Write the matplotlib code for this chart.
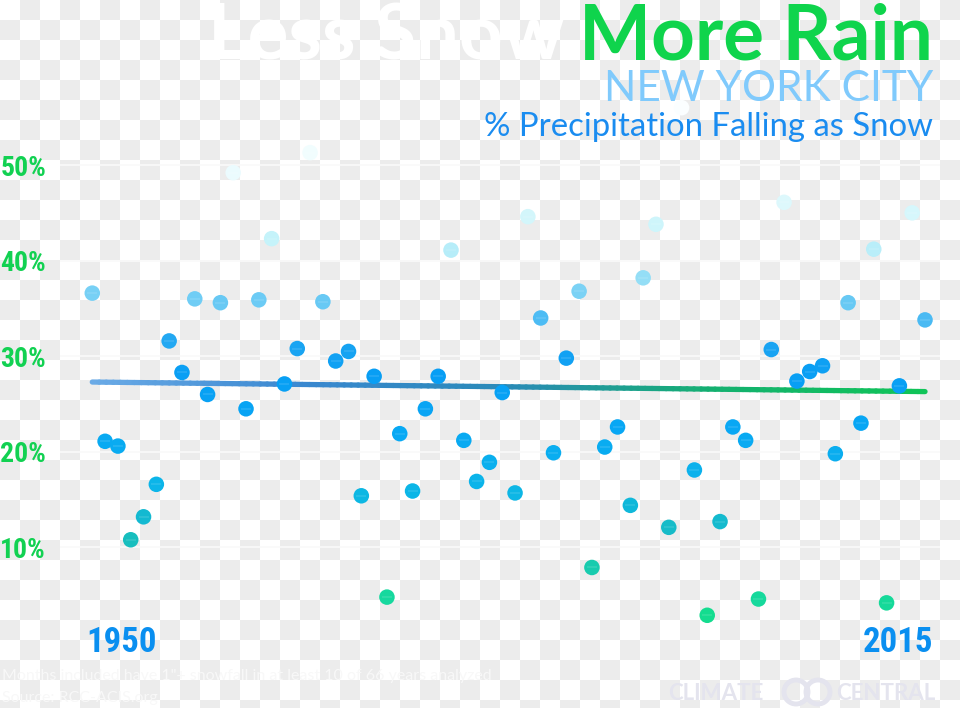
import numpy as np
import matplotlib
matplotlib.use("Agg")
import matplotlib.pyplot as plt
from matplotlib import font_manager
from matplotlib.colors import LinearSegmentedColormap, Normalize
from matplotlib.collections import LineCollection
from matplotlib.patches import Circle
from matplotlib.transforms import IdentityTransform

# data: % of winter precipitation falling as snow, New York City
years = np.arange(1950, 2016)
snow_pct = [
    36.6, 21.1, 20.6, 10.8, 13.2, 16.6, 31.6, 28.3, 36.0, 26.0,
    35.6, 49.2, 24.5, 35.9, 42.3, 27.1, 30.8, 51.3, 35.7, 29.5,
    30.5, 15.4, 27.9, 4.8, 21.9, 15.9, 24.5, 27.9, 41.1, 21.2,
    16.9, 18.9, 26.2, 15.7, 44.6, 34.0, 19.9, 29.8, 36.8, 7.9,
    20.5, 22.6, 14.4, 38.2, 43.8, 12.1, 56.0, 18.1, 2.9, 12.7,
    22.6, 21.2, 4.6, 30.7, 46.1, 27.4, 28.4, 29.0, 19.8, 35.6,
    23.0, 41.2, 4.2, 26.9, 45.0, 33.8,
]
trend_ends = [27.3, 26.3]   # trend value at 1950 and 2015
yticks = [10, 20, 30, 40, 50]
ytick_labels = ["10%", "20%", "30%", "40%", "50%"]

# pick a narrow font for the numbers
names = {f.name for f in font_manager.fontManager.ttflist}
narrow = dict(family="Roboto", stretch="normal")
for cand in ["Roboto Condensed", "Liberation Sans Narrow", "DejaVu Sans Condensed"]:
    if cand in names:
        narrow = dict(family=cand, stretch="normal")
        break
else:
    for f in font_manager.fontManager.ttflist:
        if f.name == "DejaVu Sans" and "Condensed" in f.fname and "Bold" in f.fname:
            narrow = dict(family="DejaVu Sans", stretch="condensed")
            break

W, H = 960, 708
fig = plt.figure(figsize=(W / 100, H / 100), dpi=100)

# checkerboard backdrop (transparent png look)
r = np.arange(H)[:, None] // 20
c = np.arange(W)[None, :] // 20
checker = np.where((r + c) % 2 == 1, 236, 255).astype(np.uint8)
fig.figimage(checker, xo=0, yo=0, origin="upper", cmap="gray", vmin=0, vmax=255, zorder=-10)

def px(x, y):
    return x / W, 1 - y / H

ax = fig.add_axes([60 / W, (H - 643) / H, 880 / W, 553 / H])
ax.set_facecolor("none")
ax.set_xlim(1947.48, 2016.17)
ax.set_ylim(0, 57.85)
for s in ax.spines.values():
    s.set_visible(False)
ax.set_xticks([])
ax.set_yticks(yticks)
ax.set_yticklabels(ytick_labels, weight="bold", fontsize=20, color="#12d152", **narrow)
ax.tick_params(axis="y", length=0, pad=10)
ax.yaxis.grid(True, color="#fafafa", lw=1.2)
ax.set_axisbelow(True)

# colours run green (little snow) -> blue -> white (lots of snow)
stops = [(0, "#12e07a"), (5, "#16d8a0"), (11, "#18bcc0"), (16, "#0cb6e8"),
         (22, "#08a8f4"), (28, "#089ef4"), (31, "#1aa4f2"), (35, "#5ec4f4"),
         (38, "#90dcf6"), (42, "#c2f2fa"), (46, "#dcf8fc"), (50, "#eefcfe"),
         (57.85, "#ffffff")]
cmap = LinearSegmentedColormap.from_list("snow", [(v / 57.85, col) for v, col in stops])
norm = Normalize(0, 57.85)

ax.scatter(years, snow_pct, s=125, c=snow_pct, cmap=cmap, norm=norm,
           edgecolors="none", zorder=3, clip_on=False)
# faint sheen band across each ball
ax.scatter(years, snow_pct, s=60, marker="_", c="white", alpha=0.1, linewidths=1.5,
           zorder=4, clip_on=False)

# trend line with blue -> green gradient
tx = np.linspace(years[0], years[-1], 120)
ty = np.linspace(trend_ends[0], trend_ends[1], 120)
pts = np.column_stack([tx, ty]).reshape(-1, 1, 2)
segs = np.concatenate([pts[:-1], pts[1:]], axis=1)
tcmap = LinearSegmentedColormap.from_list("trend", ["#6aaae6", "#3a88d0", "#2a8ab8", "#14b070", "#10c458"])
lc = LineCollection(segs, colors=tcmap(np.linspace(0, 1, len(segs))), linewidths=3.8,
                    capstyle="round", zorder=2)
ax.add_collection(lc)

# year labels
ax.annotate("1950", xy=(years[0], 0), xytext=(-4, 0), textcoords="offset points",
            ha="left", va="center", weight="bold", fontsize=25, color="#0a8ff0",
            annotation_clip=False, **narrow)
ax.annotate("2015", xy=(years[-1], 0), xytext=(6, 0), textcoords="offset points",
            ha="right", va="center", weight="bold", fontsize=25, color="#0a8ff0",
            annotation_clip=False, **narrow)

# titles
fig.text(*px(933, 60), "More Rain", ha="right", va="baseline", family="Lato",
         weight="bold", fontsize=55, color="#0fd44c")
fig.text(*px(564, 60), "Less Snow", ha="right", va="baseline", family="Lato",
         weight="bold", fontsize=55, color="white")
fig.text(*px(933, 101), "NEW YORK CITY", ha="right", va="baseline", family="Lato",
         weight="normal", fontsize=30.5, color="#80cafc")
fig.text(*px(933, 136), "% Precipitation Falling as Snow", ha="right", va="baseline",
         family="Lato", weight="normal", fontsize=23.7, color="#1a8cf0")

# footer
fig.text(*px(2, 680), "Months included have 1\"+ snowfall in at least 10 of 66 years analyzed",
         ha="left", va="baseline", family="Lato", fontsize=11.5, color="#f8f8f8")
fig.text(*px(2, 702), "Source: RCC-ACIS.org", ha="left", va="baseline", family="Lato",
         fontsize=11.5, color="#f8f8f8")

# logo
logo_col = "#e4e4ee"
fig.text(*px(668, 700), "CLIMATE", ha="left", va="baseline", family="Lato",
         weight="bold", fontsize=16, color=logo_col)
fig.text(*px(935, 700), "CENTRAL", ha="right", va="baseline", family="Lato",
         weight="bold", fontsize=16, color=logo_col)
for cx in (796, 818):
    fig.add_artist(Circle((cx, H - 692), 12, transform=IdentityTransform(),
                          fill=False, lw=3.5, edgecolor=logo_col))

fig.savefig("out.png", dpi=100)
